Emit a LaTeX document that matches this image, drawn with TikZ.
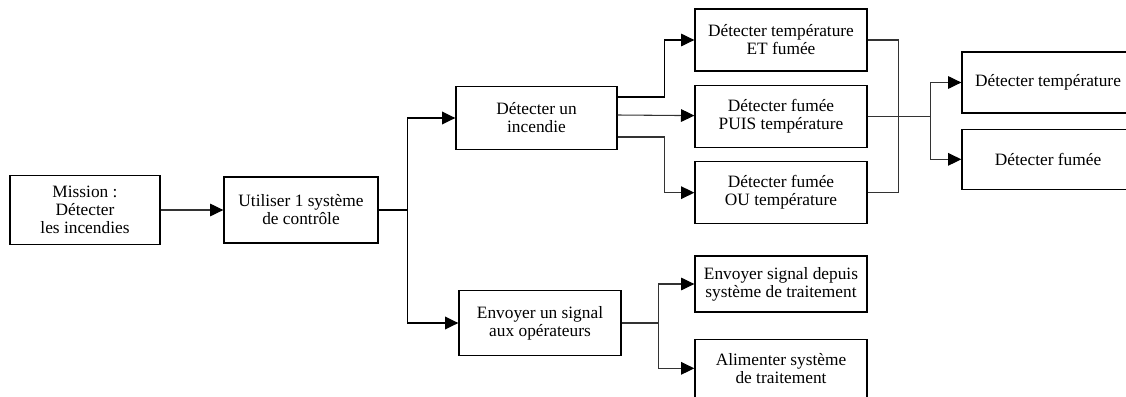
\documentclass[tikz,border=0pt]{standalone}
\usepackage{fontspec}
\setmainfont{Liberation Serif}
\usepackage{tikz}
\usetikzlibrary{positioning,arrows.meta}

\begin{document}
\begin{tikzpicture}[x=0.75pt, y=-0.75pt,
        box/.style={rectangle, draw=black, line width=1pt, minimum width=129pt, minimum height=46.5pt, font=\fontsize{13}{13.5}\selectfont, align=center, fill=white},
        arrow/.style={-{Triangle[length=10pt,width=9.5pt,color=black]}, line width=0.8pt, draw=black!80},
        line/.style={line width=0.8pt, draw=black!80},
        trunk/.style={line width=1.1pt, draw=black},
      ]
      \useasboundingbox (0,0) rectangle (1126,396);
      \clip (0,0) rectangle (1126,396);
      % left part
      \node [box, minimum width=112.5pt, minimum height=51.75pt] (mission) at (85,210) {Mission :\\Détecter\\les incendies};
      \node [box, minimum width=115.5pt, minimum height=49.5pt] (systeme) at (301,210) {Utiliser 1 système\\de contrôle};
      \node [box, minimum width=120.75pt, minimum height=47.25pt] (incendie) at (536.5,118) {Détecter un\\incendie};
      \node [box, minimum width=121.5pt, minimum height=48.75pt] (envoi) at (540,323) {Envoyer un signal\\aux opérateurs};
      % detection
      \node [box] (tempfum) at (781,40) {Détecter température\\ET fumée};
      \node [box, below=9.75pt of tempfum] (fumtemp) {Détecter fumée\\PUIS température};
      \node [box, below=9.75pt of fumtemp] (fumoutemp) {Détecter fumée\\OU température};
      \node [box, minimum height=45.75pt] (temp) at (1048,82.5) {Détecter température};
      \node [box, minimum height=45pt, below=11.25pt of temp] (fumee) {Détecter fumée};
      % signal
      \node [box, minimum height=42pt] (depuis) at (781,284) {Envoyer signal depuis\\système de traitement};
      \node [box, minimum height=43.5pt, below=19.5pt of depuis] (alim) {Alimenter système\\de traitement};
      \draw [arrow] (mission) -- (systeme);
      \draw [trunk] (systeme.east) -- ++(29,0) coordinate (tr);
      \draw [arrow, trunk] (tr) |- (incendie);
      \draw [arrow, trunk] (tr) |- (envoi);
      \draw [arrow, draw=black] ([yshift=15.75pt]incendie.east) -- ++(47,0) |- (tempfum);
      \draw [arrow] ([yshift=2.25pt]incendie.east) -- (fumtemp);
      \draw [arrow] ([yshift=-14.25pt]incendie.east) -- ++(47,0) |- (fumoutemp);
      \draw [line] (fumtemp.east) -- ++(31,0) coordinate (m1) -- ++(32,0) coordinate (m2);
      \draw [line] (tempfum.east) -| (m1) |- (fumoutemp.east);
      \draw [arrow] (m2) |- (temp);
      \draw [arrow] (m2) |- (fumee);
      \draw [line] (envoi.east) -- ++(37,0) coordinate (s1);
      \draw [arrow] (s1) |- (depuis);
      \draw [arrow] (s1) |- (alim);
    \end{tikzpicture}
\end{document}
